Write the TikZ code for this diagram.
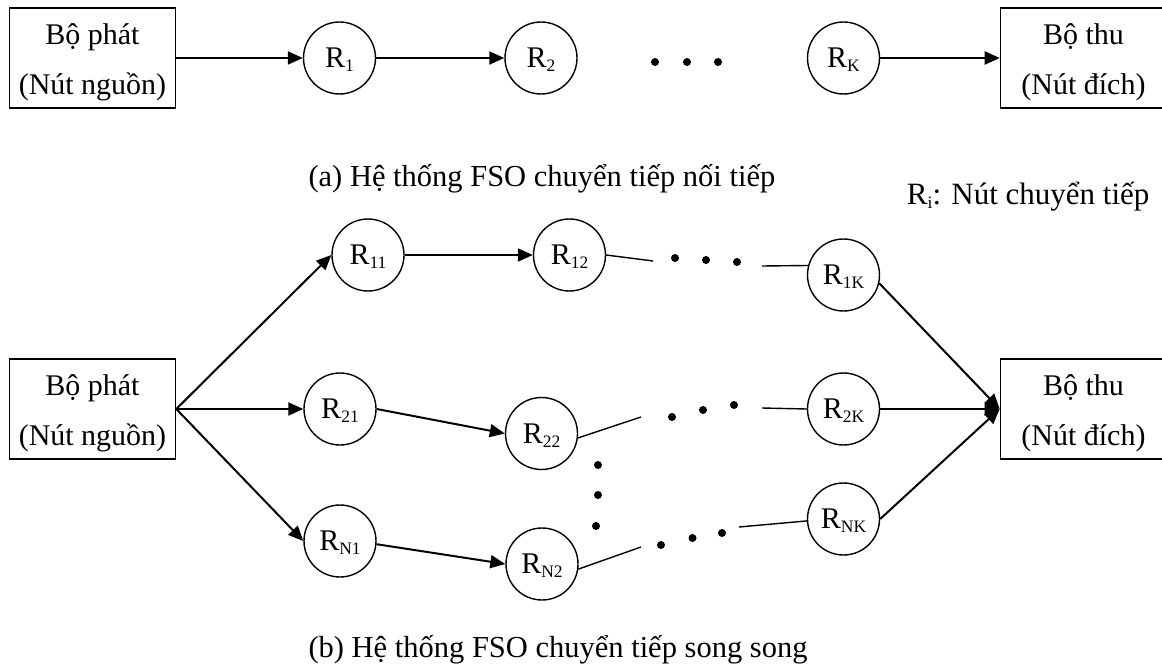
\documentclass[tikz,border=0pt]{standalone}
\usepackage{fontspec}
\setmainfont{Liberation Serif}
\usetikzlibrary{arrows.meta}
% lowered, smaller index for relay names
\newcommand\rsub[1]{\raisebox{-4pt}{\fontsize{17.5}{18}\selectfont #1}}

\begin{document}
\begin{tikzpicture}[x=1pt,y=-1pt,
  every node/.style={font=\fontsize{30}{50}\selectfont},
  endbox/.style={draw,line width=1.6pt,minimum width=166pt,minimum height=100pt,
                 inner sep=0pt,align=center},
  relay/.style={draw,circle,line width=1.4pt,minimum size=72pt,inner sep=0pt,
                text height=19.5pt,text depth=0pt},
  link/.style={line width=2pt,-{Triangle[length=15pt,width=13pt]}},
  tail/.style={line width=1.4pt},
  dot/.style={circle,fill,inner sep=0pt,minimum size=8pt},
  caption/.style={anchor=base west,font=\fontsize{30.5}{34}\selectfont}
]
\useasboundingbox (0,0) rectangle (1162,671);

% ---------- (a) serial relaying ----------
\node[endbox] (srcA) at (92.5,58) {\rule{0pt}{30pt}Bộ phát\\(Nút nguồn)};
\node[endbox] (dstA) at (1083.5,58) {\rule{0pt}{30pt}Bộ thu\\(Nút đích)};
\node[relay] (r1) at (339.5,58) {R\rsub{1}};
\node[relay] (r2) at (541,58) {R\rsub{2}};
\node[relay] (rk) at (843.5,58) {R\rsub{K}};
\node[dot] (da1) at (655,62) {};
\node[dot] (da2) at (687,62) {};
\node[dot] (da3) at (718,62) {};

\draw[link] (srcA) -- (r1);
\draw[link] (r1) -- (r2);
\draw[link] (rk) -- (dstA);

\node[caption] (capA) at (305,187) {(a) Hệ thống FSO chuyển tiếp nối tiếp};
\node[caption,anchor=base east,font=\fontsize{31}{34}\selectfont] (legend) at (1153,205) {R\rsub{i}: Nút chuyển tiếp};

% ---------- (b) parallel relaying ----------
\node[endbox] (srcB) at (92.5,409) {\rule{0pt}{30pt}Bộ phát\\(Nút nguồn)};
\node[endbox] (dstB) at (1083.5,409) {\rule{0pt}{30pt}Bộ thu\\(Nút đích)};

\node[relay] (r11) at (368,255) {R\rsub{11}};
\node[relay] (r12) at (569.5,255) {R\rsub{12}};
\node[relay] (r1k) at (843.5,275) {R\rsub{1K}};

\node[relay] (r21) at (340,409) {R\rsub{21}};
\node[relay] (r22) at (541.5,433.5) {R\rsub{22}};
\node[relay] (r2k) at (843.5,409) {R\rsub{2K}};

\node[relay] (rn1) at (340,541) {R\rsub{N1}};
\node[relay] (rn2) at (542,564) {R\rsub{N2}};
\node[relay] (rnk) at (843.5,519) {R\rsub{NK}};

% fan-out from the source
\draw[link] (srcB.east) -- (r11.west);
\draw[link] (srcB.east) -- (r21.west);
\draw[link] (srcB.east) -- (rn1.west);

% first hops
\draw[link] (r11) -- (r12);
\draw[link] (r21.east) -- (r22.west);
\draw[link] (rn1.-5) -- (rn2.west);

% fan-in to the destination
\draw[link] (r1k.-13) -- (dstB.west);
\draw[link] (r2k.east) -- (dstB.west);
\draw[link] (rnk.east) -- (dstB.west);

% elided relays: short stubs and dots
\coordinate (s1a) at (653,261);
\coordinate (s1b) at (762,266);
\coordinate (s2a) at (641,417);
\coordinate (s2b) at (762,408);
\coordinate (sna) at (641,547);
\coordinate (snb) at (739,527);

\draw[tail] (r12.east) -- (s1a);
\draw[tail] (s1b) -- (r1k.165);
\draw[tail] (r22.-7) -- (s2a);
\draw[tail] (s2b) -- (r2k.west);
\draw[tail] (rn2.-8) -- (sna);
\draw[tail] (snb) -- (rnk.183);

\node[dot] (d11) at (675,258) {};
\node[dot] (d12) at (706,260) {};
\node[dot] (d13) at (737,262) {};
\node[dot] (d21) at (672,417) {};
\node[dot] (d22) at (703,410) {};
\node[dot] (d23) at (734,405) {};
\node[dot] (dv1) at (598,465) {};
\node[dot] (dv2) at (598,495) {};
\node[dot] (dv3) at (596,526) {};
\node[dot] (dn1) at (661,545) {};
\node[dot] (dn2) at (692.5,538) {};
\node[dot] (dn3) at (722,533) {};

\node[caption] (capB) at (305,657) {(b) Hệ thống FSO chuyển tiếp song song};
\end{tikzpicture}
\end{document}
